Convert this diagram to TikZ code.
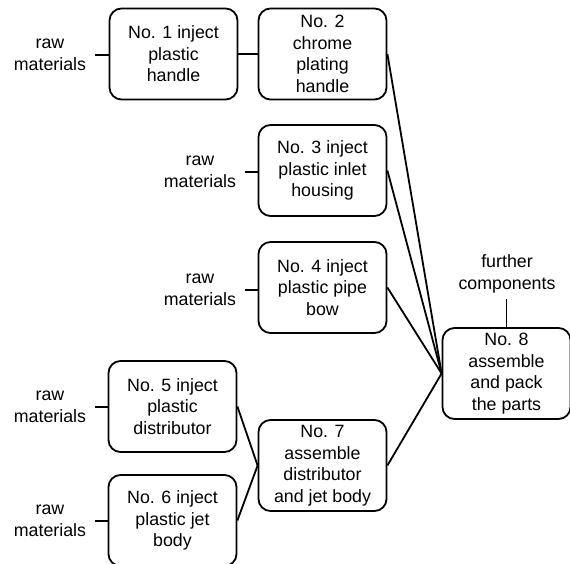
\documentclass[tikz,border=0pt]{standalone}
\usepackage{fontspec}
\setmainfont{Liberation Sans}
\usepackage{tikz}
\tikzset{
	proc/.style={draw,line width=1.8pt,rounded corners=12pt,minimum width=128pt,minimum height=91pt,inner sep=0pt,align=center},
	raw/.style={align=center,inner sep=9pt},
	link/.style={line width=1.8pt}
}

\begin{document}
\begin{tikzpicture}[x=1pt,y=-1pt,font=\fontsize{17.8}{21.5}\selectfont]
	\useasboundingbox (0,0) rectangle (570,564);
	\clip (0,0) rectangle (570,564);

	\node [proc] (b1) at (173.5,54) {No. 1 inject\\plastic\\handle};
	\node [proc] (b2) at (322.5,54) {No. 2\\chrome\\plating\\handle};
	\node [proc] (b3) at (322.5,170.5) {No. 3 inject\\plastic inlet\\housing};
	\node [proc] (b4) at (322.5,287.5) {No. 4 inject\\plastic pipe\\bow};
	\node [proc] (b5) at (172.5,406.5) {No. 5 inject\\plastic\\distributor};
	\node [proc] (b6) at (172.5,520.5) {No. 6 inject\\plastic jet\\body};
	\node [proc] (b7) at (322.5,465.5) {No. 7\\assemble\\distributor\\and jet body};
	\node [proc] (b8) at (506.5,373.5) {No. 8\\assemble\\and pack\\the parts};

	\node [raw] (r1) at (50,55) {raw\\materials};
	\node [raw] (r3) at (200,172) {raw\\materials};
	\node [raw] (r4) at (200,290) {raw\\materials};
	\node [raw] (r5) at (50,407) {raw\\materials};
	\node [raw] (r6) at (50,521) {raw\\materials};
	\node [raw,inner sep=6pt] (fc) at (507,274) {further\\components};

	\draw [link] (r1.east) -- (r1.east -| b1.west);
	\draw [link] (r3.east) -- (r3.east -| b3.west);
	\draw [link] (r4.east) -- (r4.east -| b4.west);
	\draw [link] (r5.east) -- (r5.east -| b5.west);
	\draw [link] (r6.east) -- (r6.east -| b6.west);
	\draw [link] (b1.east) -- (b2.west);
	\draw [link] (b2.east) -- (b8.west);
	\draw [link] (b3.east) -- (b8.west);
	\draw [link] (b4.east) -- (b8.west);
	\draw [link] (b7.east) -- (b8.west);
	\draw [link] (b5.east) -- (b7.west);
	\draw [link] (b6.east) -- (b7.west);
	\draw [link] (fc.south -| b8.north) -- (b8.north);
\end{tikzpicture}
\end{document}
